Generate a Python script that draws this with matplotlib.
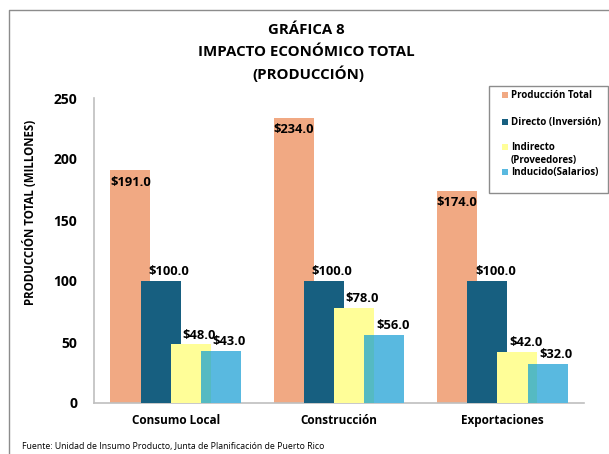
import matplotlib
matplotlib.use("Agg")
import matplotlib.pyplot as plt
from matplotlib.lines import Line2D
from matplotlib.patches import Rectangle
import numpy as np

# data (millones de dólares)
categories = ["Consumo Local", "Construcción", "Exportaciones"]
series_names = ["Producción Total", "Directo (Inversión)",
                "Indirecto\n(Proveedores)", "Inducido(Salarios)"]
produccion_total = [191.0, 234.0, 174.0]
directo = [100.0, 100.0, 100.0]
indirecto = [48.0, 78.0, 42.0]
inducido = [43.0, 56.0, 32.0]
yticks = [0, 50, 100, 150, 200, 250]

COLORS = ["#F1A983", "#175F80", "#FFFE98", "#59B9E0"]
OVERLAP = "#55BAC2"  # where the light-blue bar sits on the yellow one
FONT = ["Open Sans", "DejaVu Sans"]

plt.rcParams["font.family"] = FONT

W, H = 609, 454


def fx(px):
    return px / W


def fy(py):
    return 1 - py / H


fig = plt.figure(figsize=(W / 100, H / 100), dpi=100)
ax = fig.add_axes([fx(94), fy(403), 490 / W, 305 / H])

x = np.arange(len(categories))
width = 0.245
step = 0.185
all_series = [produccion_total, directo, indirecto, inducido]
for i, vals in enumerate(all_series):
    pos = x + (i - 1.5) * step
    ax.bar(pos, vals, width=width, color=COLORS[i], edgecolor="none", zorder=2 + i)
    for px, v in zip(pos, vals):
        if i == 0:
            ax.annotate(f"${v:.1f}", (px, v), xytext=(0, -4), textcoords="offset points",
                        ha="center", va="top", fontsize=9.3, fontweight="bold", zorder=10)
        else:
            ax.annotate(f"${v:.1f}", (px, v), xytext=(6, 2), textcoords="offset points",
                        ha="center", va="bottom", fontsize=9.3, fontweight="bold", zorder=10)

# blended strip where the Inducido bar overlaps the Indirecto bar
ov_left = x + 1.5 * step - width / 2
ov_right = x + 0.5 * step + width / 2
ov_h = np.minimum(indirecto, inducido)
ax.bar((ov_left + ov_right) / 2, ov_h, width=ov_right - ov_left, color=OVERLAP,
       edgecolor="none", zorder=6)

ax.set_xlim(-0.5, 2.5)
ax.set_ylim(0, 250)
ax.set_yticks(yticks)
ax.set_xticks(x)
ax.set_xticklabels(categories, fontsize=8.5, fontweight="bold")
for lab in ax.get_yticklabels():
    lab.set_fontsize(10)
    lab.set_fontweight("bold")
ax.tick_params(axis="both", length=0)
ax.tick_params(axis="y", pad=12)
ax.tick_params(axis="x", pad=8)
for s in ["top", "right"]:
    ax.spines[s].set_visible(False)
for s in ["left", "bottom"]:
    ax.spines[s].set_color("#BFBFBF")
    ax.spines[s].set_linewidth(1.2)

# titles
fig.text(fx(306), fy(30), "GRÁFICA 8", ha="center", va="center", fontsize=10.8, fontweight="bold")
fig.text(fx(306), fy(52), "IMPACTO ECONÓMICO TOTAL", ha="center", va="center",
         fontsize=10.8, fontweight="bold")
fig.text(fx(308), fy(74), "(PRODUCCIÓN)", ha="center", va="center", fontsize=10.8, fontweight="bold")

fig.text(fx(30), fy(212), "PRODUCCIÓN TOTAL (MILLONES)", rotation=90, ha="center",
         va="center", fontsize=8.3, fontweight="bold")
fig.text(fx(22), fy(447), "Fuente: Unidad de Insumo Producto, Junta de Planificación de Puerto Rico",
         ha="left", va="center", fontsize=6.3)

# legend, laid out by hand to follow the reference box
fig.add_artist(Rectangle((fx(489), fy(193)), (608 - 489) / W, (193 - 86) / H,
                         transform=fig.transFigure, facecolor="white",
                         edgecolor="#8C8C8C", linewidth=1.0))
row_y = [95, 122, 147, 172]
line_gap = 13.5
for name, color, ry in zip(series_names, COLORS, row_y):
    fig.add_artist(Rectangle((fx(502), fy(ry + 3)), 6 / W, 6 / H,
                             transform=fig.transFigure, facecolor=color, edgecolor="none"))
    for k, part in enumerate(name.split("\n")):
        fig.text(fx(511), fy(ry + k * line_gap), part, ha="left", va="center",
                 fontsize=7.0, fontweight="bold")

# outer chart frame (cropped on the right/bottom)
fig.add_artist(Line2D([fx(9), fx(9), 1.0], [0.0, fy(10), fy(10)],
                      transform=fig.transFigure, color="#8C8C8C", linewidth=1.0))

fig.savefig("out.png", dpi=100)
